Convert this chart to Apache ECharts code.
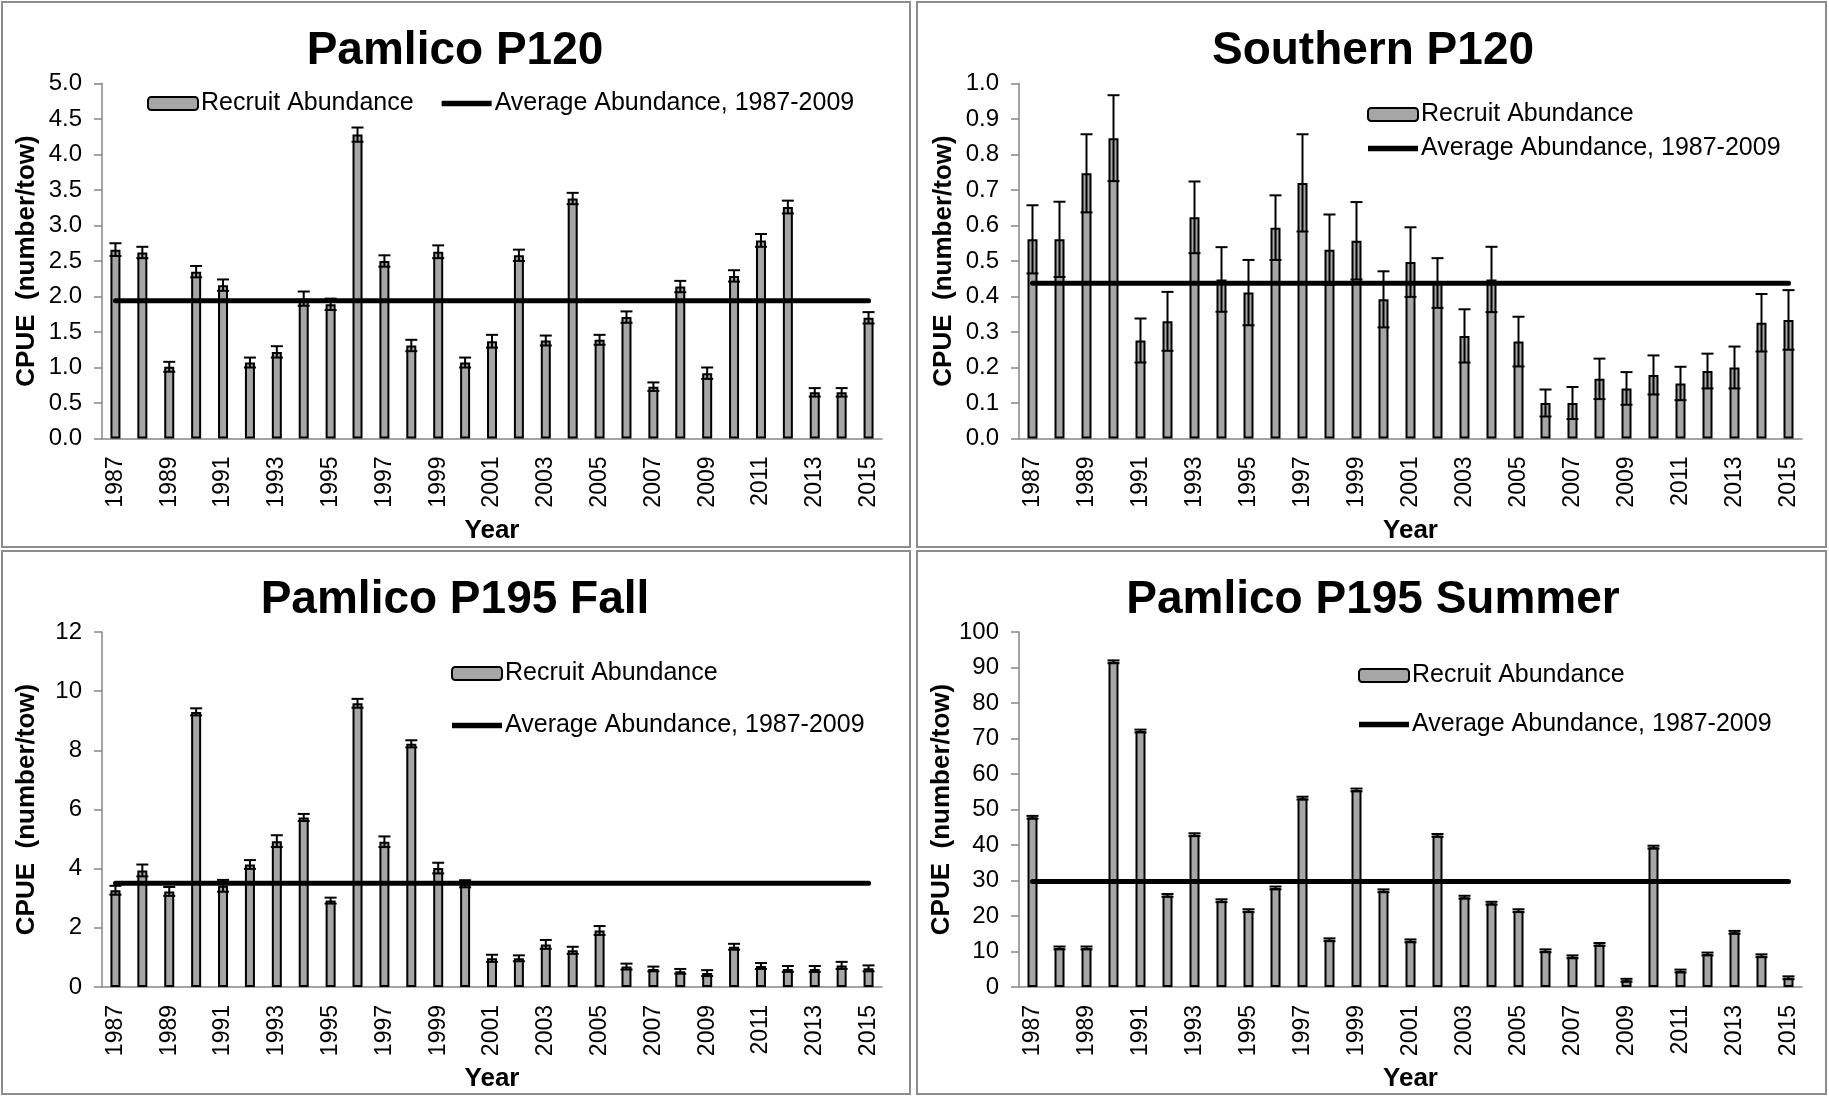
<!DOCTYPE html>
<html>
<head>
<meta charset="utf-8">
<script src="https://cdn.jsdelivr.net/npm/echarts@6/dist/echarts.min.js"></script>
<style>
html,body{margin:0;padding:0;background:#fff;}
#chart{width:1829px;height:1096px;}
</style>
</head>
<body>
<div id="chart"></div>
<script>
// ---- Data ----
const years = ['1987','1988','1989','1990','1991','1992','1993','1994','1995','1996','1997','1998','1999','2000','2001','2002','2003','2004','2005','2006','2007','2008','2009','2010','2011','2012','2013','2014','2015'];

const titles = ['Pamlico P120', 'Southern P120', 'Pamlico P195 Fall', 'Pamlico P195 Summer'];
const barName = 'Recruit Abundance';
const lineName = 'Average Abundance, 1987-2009';
const yTitle = 'CPUE  (number/tow)';
const xTitle = 'Year';

const pamlicoP120 = [2.66,2.62,1.01,2.35,2.16,1.07,1.22,1.97,1.89,4.28,2.50,1.31,2.63,1.07,1.37,2.58,1.38,3.38,1.39,1.71,0.73,2.14,0.92,2.29,2.79,3.26,0.65,0.65,1.70];
const pamlicoP120Err = [0.09,0.08,0.07,0.08,0.08,0.07,0.08,0.10,0.08,0.10,0.08,0.08,0.09,0.07,0.09,0.08,0.07,0.08,0.07,0.08,0.06,0.08,0.08,0.08,0.09,0.09,0.06,0.06,0.08];
const pamlicoP120Avg = 1.94;

const southernP120 = [0.561,0.561,0.747,0.846,0.276,0.330,0.623,0.448,0.411,0.594,0.720,0.532,0.557,0.392,0.497,0.438,0.289,0.448,0.273,0.100,0.100,0.168,0.141,0.179,0.155,0.190,0.200,0.326,0.334];
const southernP120Err = [0.096,0.106,0.110,0.121,0.062,0.083,0.101,0.091,0.092,0.091,0.137,0.099,0.109,0.079,0.098,0.070,0.075,0.092,0.070,0.038,0.045,0.057,0.046,0.055,0.047,0.049,0.059,0.081,0.084];
const southernP120Avg = 0.437;

const pamlicoP195Fall = [3.27,3.94,3.23,9.30,3.42,4.14,4.93,5.73,2.92,9.59,4.91,8.22,4.02,3.49,0.97,0.97,1.44,1.24,1.91,0.69,0.61,0.53,0.47,1.36,0.71,0.61,0.61,0.73,0.63];
const pamlicoP195FallErr = [0.15,0.20,0.15,0.12,0.20,0.15,0.20,0.12,0.10,0.15,0.18,0.12,0.18,0.12,0.12,0.10,0.15,0.12,0.15,0.10,0.08,0.08,0.10,0.10,0.10,0.10,0.10,0.12,0.10];
const pamlicoP195FallAvg = 3.51;

const pamlicoP195Summer = [47.8,11.0,11.0,91.6,72.1,25.8,42.9,24.3,21.5,27.9,53.2,13.3,55.5,27.1,13.0,42.7,25.3,23.6,21.5,10.2,8.5,12.0,1.9,39.4,4.5,9.3,15.4,8.8,2.6];
const pamlicoP195SummerErr = [0.4,0.4,0.4,0.4,0.4,0.4,0.4,0.4,0.4,0.4,0.4,0.4,0.4,0.4,0.4,0.4,0.4,0.4,0.4,0.4,0.4,0.4,0.4,0.4,0.4,0.4,0.4,0.4,0.4];
const pamlicoP195SummerAvg = 29.75;

const yMax = [5, 1, 12, 100];
const yInterval = [0.5, 0.1, 2, 10];
const yDecimals = [1, 1, 0, 0];

// ---- Layout ----
const FONT = "'Liberation Sans', Arial, sans-serif";
const panels = [
  {vals: pamlicoP120, err: pamlicoP120Err, avg: pamlicoP120Avg,
   grid: {left: 102, top: 83.5, width: 780, height: 355},
   titleX: 455, titleY: 28,
   legend: {orient: 'horizontal', left: 147, top: 91, itemGap: 28}},
  {vals: southernP120, err: southernP120Err, avg: southernP120Avg,
   grid: {left: 1019, top: 83.5, width: 783, height: 355},
   titleX: 1373, titleY: 28,
   legend: {orient: 'vertical', left: 1367, top: 102, itemGap: 9}},
  {vals: pamlicoP195Fall, err: pamlicoP195FallErr, avg: pamlicoP195FallAvg,
   grid: {left: 102, top: 632, width: 780, height: 355},
   titleX: 455, titleY: 577,
   legend: {orient: 'vertical', left: 451, top: 661, itemGap: 27}},
  {vals: pamlicoP195Summer, err: pamlicoP195SummerErr, avg: pamlicoP195SummerAvg,
   grid: {left: 1019, top: 632, width: 783, height: 355},
   titleX: 1373, titleY: 577,
   legend: {orient: 'vertical', left: 1358, top: 663, itemGap: 24}}
];

const AXIS_GRAY = '#868686';

function errRender(params, api) {
  const x = api.value(0);
  const pLo = api.coord([x, api.value(1)]);
  const pHi = api.coord([x, api.value(2)]);
  const w = 6;
  const st = {stroke: '#000', lineWidth: 2};
  return {type: 'group', children: [
    {type: 'line', shape: {x1: pHi[0], y1: pHi[1], x2: pLo[0], y2: pLo[1]}, style: st},
    {type: 'line', shape: {x1: pHi[0]-w, y1: pHi[1], x2: pHi[0]+w, y2: pHi[1]}, style: st},
    {type: 'line', shape: {x1: pLo[0]-w, y1: pLo[1], x2: pLo[0]+w, y2: pLo[1]}, style: st}
  ]};
}

const option = {
  animation: false,
  backgroundColor: '#fff',
  textStyle: {fontFamily: FONT},
  title: [], legend: [], grid: [], xAxis: [], yAxis: [], series: [],
  graphic: []
};

// panel frames
[[2,2,908,545],[917,2,909,545],[2,551,908,543],[917,551,909,543]].forEach(r => {
  option.graphic.push({type: 'rect', shape: {x: r[0], y: r[1], width: r[2], height: r[3]},
    style: {fill: 'none', stroke: '#8c8c8c', lineWidth: 2}, silent: true, z: -10});
});

panels.forEach((p, i) => {
  option.title.push({text: titles[i], left: p.titleX, top: p.titleY, textAlign: 'center', padding: 0,
    textStyle: {fontFamily: FONT, fontSize: 46, fontWeight: 'bold', color: '#000'}});
  option.legend.push(Object.assign({
    data: [barName, {name: lineName, icon: 'path://M0,0H53V6H0Z'}],
    itemWidth: 50, itemHeight: 13, padding: 0,
    textStyle: {fontFamily: FONT, fontSize: 25, color: '#000', padding: [0,0,0,-2]},
    selectedMode: false
  }, p.legend));
  option.grid.push(Object.assign({containLabel: false}, p.grid));
  option.xAxis.push({
    type: 'category', gridIndex: i, data: years, boundaryGap: true,
    name: xTitle, nameLocation: 'middle', nameGap: 79,
    nameTextStyle: {fontFamily: FONT, fontSize: 26, fontWeight: 'bold', color: '#000'},
    axisLine: {lineStyle: {color: AXIS_GRAY, width: 1.5}},
    axisTick: {interval: 0, length: 6, lineStyle: {color: AXIS_GRAY, width: 1.5}},
    axisLabel: {interval: 1, rotate: 90, margin: 18, fontFamily: FONT, fontSize: 23, color: '#000'}
  });
  option.yAxis.push({
    type: 'value', gridIndex: i, min: 0, max: yMax[i], interval: yInterval[i],
    name: yTitle, nameLocation: 'middle', nameGap: 62, nameRotate: 90,
    nameTextStyle: {fontFamily: FONT, fontSize: 26, fontWeight: 'bold', color: '#000'},
    axisLine: {show: true, lineStyle: {color: AXIS_GRAY, width: 1.5}},
    axisTick: {show: true, length: 8, lineStyle: {color: AXIS_GRAY, width: 1.5}},
    splitLine: {show: false},
    axisLabel: {margin: 20, fontFamily: FONT, fontSize: 24, color: '#000',
      formatter: v => v.toFixed(yDecimals[i])}
  });
  option.series.push({
    name: barName, type: 'bar', xAxisIndex: i, yAxisIndex: i, data: p.vals,
    barWidth: 10, itemStyle: {color: '#a6a6a6', borderColor: '#000', borderWidth: 2}, z: 2
  });
  option.series.push({
    name: 'err' + i, type: 'custom', xAxisIndex: i, yAxisIndex: i,
    data: p.vals.map((v, k) => [k, v - p.err[k], v + p.err[k]]),
    encode: {x: 0, y: [1, 2]}, renderItem: errRender, z: 3, silent: true
  });
  option.series.push({
    name: lineName, type: 'line', xAxisIndex: i, yAxisIndex: i,
    data: years.map(() => p.avg), symbol: 'none',
    lineStyle: {color: '#000', width: 5, cap: 'round'}, itemStyle: {color: '#000'}, z: 4
  });
});

const chart = echarts.init(document.getElementById('chart'), null, {renderer: 'canvas'});
chart.setOption(option);
</script>
</body>
</html>
